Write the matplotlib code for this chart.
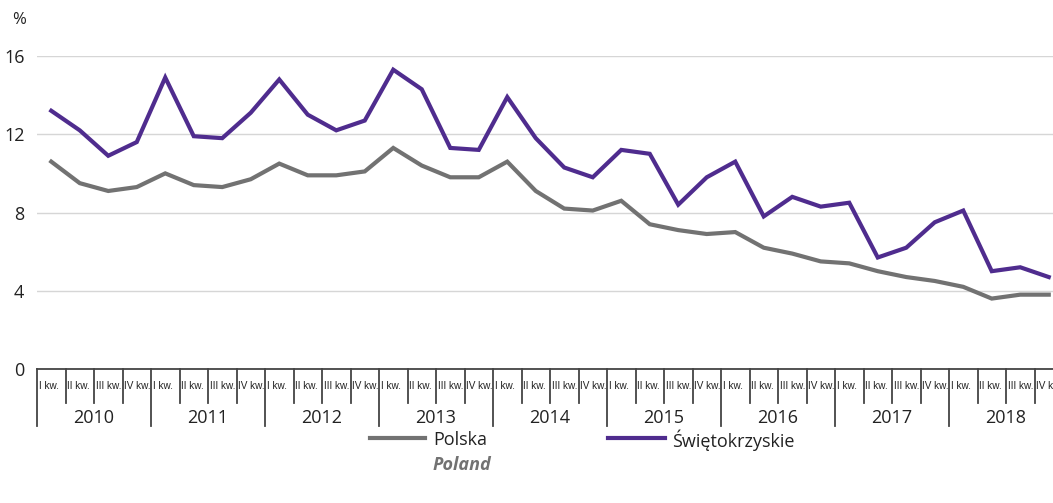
import matplotlib.pyplot as plt
from matplotlib.lines import Line2D
from matplotlib import transforms

years = ['2010', '2011', '2012', '2013', '2014', '2015', '2016', '2017', '2018']
quarters = ['I kw.', 'II kw.', 'III kw.', 'IV kw.']

polska = [10.6, 9.5, 9.1, 9.3,
          10.0, 9.4, 9.3, 9.7,
          10.5, 9.9, 9.9, 10.1,
          11.3, 10.4, 9.8, 9.8,
          10.6, 9.1, 8.2, 8.1,
          8.6, 7.4, 7.1, 6.9,
          7.0, 6.2, 5.9, 5.5,
          5.4, 5.0, 4.7, 4.5,
          4.2, 3.6, 3.8, 3.8]
swietokrzyskie = [13.2, 12.2, 10.9, 11.6,
                  14.9, 11.9, 11.8, 13.1,
                  14.8, 13.0, 12.2, 12.7,
                  15.3, 14.3, 11.3, 11.2,
                  13.9, 11.8, 10.3, 9.8,
                  11.2, 11.0, 8.4, 9.8,
                  10.6, 7.8, 8.8, 8.3,
                  8.5, 5.7, 6.2, 7.5,
                  8.1, 5.0, 5.2, 4.7]

gray = '#727272'
purple = '#4f2c8e'
font = ['Open Sans', 'DejaVu Sans']
small = ['Liberation Sans', 'DejaVu Sans']
plt.rcParams['font.family'] = font

fig = plt.figure(figsize=(10.53, 5.03), dpi=100)
ax = fig.add_axes([37 / 1053, 1 - 369 / 503, 1026 / 1053, 313 / 503])

x = list(range(len(polska)))
ax.plot(x, polska, color=gray, lw=3, solid_joinstyle='miter')
ax.plot(x, swietokrzyskie, color=purple, lw=3, solid_joinstyle='miter')

ax.set_xlim(-0.5, 35.5)
ax.set_ylim(0, 16)
ax.set_yticks([0, 4, 8, 12, 16])
ax.set_yticklabels(['0', '4', '8', '12', '16'], fontsize=13, color='#222222')
ax.tick_params(axis='y', length=0, pad=9)
ax.set_xticks([])
ax.grid(axis='y', color='#d6d6d6', lw=1)
ax.set_axisbelow(True)
for s in ['top', 'right', 'left']:
    ax.spines[s].set_visible(False)
ax.spines['bottom'].set_color('#444444')
ax.spines['bottom'].set_linewidth(1.3)

# category table under the axis
trans = transforms.blended_transform_factory(ax.transData, ax.transAxes)
for k in range(37):
    depth = -0.182 if k % 4 == 0 else -0.109
    ax.add_line(Line2D([k - 0.5, k - 0.5], [0, depth], transform=trans,
                       color='#444444', lw=1.3, clip_on=False))
for i in range(36):
    ax.text(i - 0.44, -0.055, quarters[i % 4], transform=trans, fontsize=7.2,
            family=small, ha='left', va='center', color='#222222', clip_on=False)
for j, yr in enumerate(years):
    ax.text(j * 4 + 1.5, -0.157, yr, transform=trans, fontsize=13,
            ha='center', va='center', color='#222222')

fig.text(12 / 1053, 1 - 20 / 503, '%', fontsize=12, ha='left', va='center', color='#222222')

# legend
fig.add_artist(Line2D([370 / 1053, 425 / 1053], [1 - 438 / 503] * 2, color=gray, lw=3))
fig.text(433 / 1053, 1 - 440 / 503, 'Polska', fontsize=13, va='center', color='#222222')
fig.text(433 / 1053, 1 - 465 / 503, 'Poland', fontsize=13, va='center', color=gray,
         style='italic', weight='bold')
fig.add_artist(Line2D([608 / 1053, 665 / 1053], [1 - 438 / 503] * 2, color=purple, lw=3))
fig.text(672 / 1053, 1 - 440 / 503, 'Świętokrzyskie', fontsize=13, va='center', color='#222222')

fig.savefig('out.png', dpi=100)
